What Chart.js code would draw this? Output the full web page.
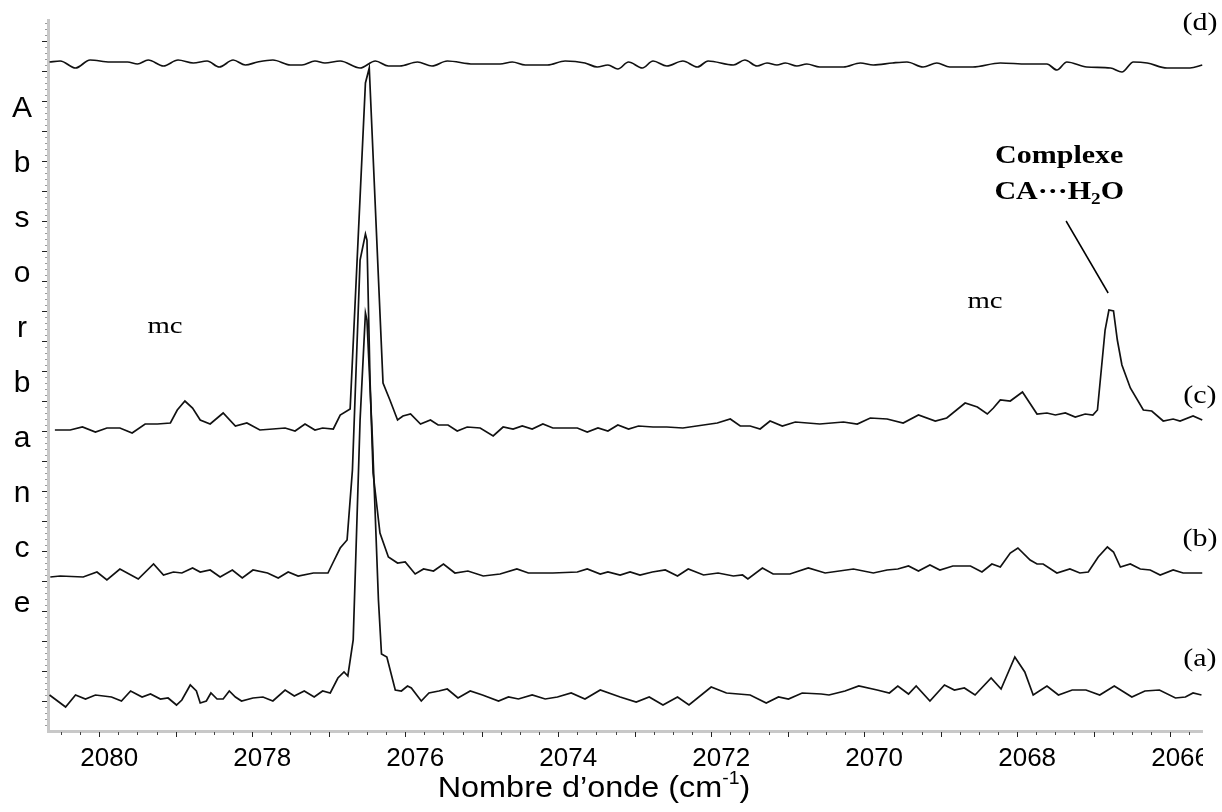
<!DOCTYPE html>
<html lang="fr">
<head>
<meta charset="utf-8">
<title>Spectres IR - région 2066-2080 cm-1</title>
<script src="https://cdn.jsdelivr.net/npm/chart.js@4.4.1/dist/chart.umd.min.js"></script>
<style>
  html, body { margin: 0; padding: 0; background: #fff; }
  #spectra { display: block; }
</style>
</head>
<body>
<canvas id="spectra" width="1222" height="812"></canvas>
<script>
// Absorbance in units of 1e-3, each spectrum already offset vertically.
// Spectre (a)
const waveA = [2080.65, 2080.58, 2080.44, 2080.31, 2080.18, 2080.05, 2079.84, 2079.71, 2079.59, 2079.44,
  2079.33, 2079.20, 2079.10, 2078.99, 2078.92, 2078.81, 2078.73, 2078.68, 2078.60, 2078.54,
  2078.46, 2078.38, 2078.30, 2078.22, 2078.14, 2077.99, 2077.86, 2077.73, 2077.57, 2077.45,
  2077.32, 2077.19, 2077.08, 2076.98, 2076.88, 2076.80, 2076.75, 2076.68, 2076.59, 2076.52,
  2076.50, 2076.43, 2076.35, 2076.31, 2076.24, 2076.13, 2076.05, 2075.97, 2075.92, 2075.79,
  2075.69, 2075.56, 2075.45, 2075.31, 2075.15, 2074.99, 2074.78, 2074.65, 2074.52, 2074.34,
  2074.17, 2074.01, 2073.83, 2073.65, 2073.45, 2073.19, 2072.98, 2072.81, 2072.63, 2072.44,
  2072.29, 2072.00, 2071.80, 2071.49, 2071.28, 2071.12, 2070.99, 2070.81, 2070.56, 2070.46,
  2070.25, 2070.07, 2069.83, 2069.67, 2069.56, 2069.42, 2069.32, 2069.14, 2068.95, 2068.82,
  2068.69, 2068.55, 2068.34, 2068.21, 2068.03, 2067.90, 2067.79, 2067.61, 2067.46, 2067.28,
  2067.10, 2066.92, 2066.73, 2066.50, 2066.33, 2066.14, 2065.93, 2065.80, 2065.70, 2065.59];
const absA = [36, 32, 24, 36, 32, 36, 34, 30, 40, 34,
  37, 32, 33, 26, 31, 46, 40, 28, 30, 38,
  32, 32, 40, 34, 30, 33, 34, 30, 41, 35,
  40, 34, 40, 38, 53, 59, 55, 91, 311, 418,
  411, 294, 131, 77, 74, 41, 40, 45, 43, 30,
  38, 40, 42, 33, 40, 36, 30, 34, 32, 36,
  32, 34, 38, 32, 41, 34, 29, 34, 26, 34,
  26, 44, 38, 36, 28, 34, 32, 38, 37, 36,
  40, 45, 41, 38, 45, 37, 45, 30, 46, 41,
  43, 36, 53, 42, 74, 59, 36, 45, 36, 41,
  41, 36, 45, 34, 40, 41, 33, 34, 38, 36];

// Spectre (b)
const waveB = [2080.64, 2080.51, 2080.21, 2080.03, 2079.90, 2079.73, 2079.49, 2079.29, 2079.16, 2079.03,
  2078.92, 2078.78, 2078.68, 2078.55, 2078.42, 2078.26, 2078.13, 2077.99, 2077.80, 2077.66,
  2077.53, 2077.40, 2077.20, 2077.01, 2076.94, 2076.85, 2076.76, 2076.69, 2076.59, 2076.52,
  2076.50, 2076.46, 2076.42, 2076.33, 2076.22, 2076.10, 2076.00, 2075.87, 2075.76, 2075.63,
  2075.50, 2075.35, 2075.18, 2074.98, 2074.76, 2074.54, 2074.39, 2074.07, 2073.75, 2073.62,
  2073.45, 2073.35, 2073.19, 2073.06, 2072.93, 2072.77, 2072.60, 2072.44, 2072.30, 2072.10,
  2071.91, 2071.71, 2071.59, 2071.52, 2071.33, 2071.19, 2070.97, 2070.73, 2070.51, 2070.14,
  2069.88, 2069.70, 2069.56, 2069.42, 2069.29, 2069.14, 2069.01, 2068.84, 2068.61, 2068.46,
  2068.33, 2068.22, 2068.09, 2067.99, 2067.83, 2067.74, 2067.66, 2067.48, 2067.31, 2067.18,
  2067.07, 2066.94, 2066.82, 2066.74, 2066.65, 2066.52, 2066.39, 2066.26, 2066.13, 2065.96,
  2065.83, 2065.58];
const absB = [154, 155, 154, 159, 151, 162, 152, 167, 156, 159,
  158, 163, 159, 161, 154, 161, 153, 161, 158, 153,
  159, 155, 158, 158, 169, 183, 191, 261, 471, 497,
  491, 351, 258, 198, 174, 168, 169, 157, 162, 160,
  167, 158, 160, 155, 157, 162, 158, 158, 159, 162,
  157, 159, 156, 159, 156, 159, 161, 155, 162, 156,
  158, 155, 156, 152, 163, 157, 157, 163, 158, 162,
  158, 161, 162, 165, 160, 166, 161, 165, 165, 159,
  167, 164, 178, 183, 171, 167, 167, 158, 162, 158,
  159, 174, 184, 179, 164, 167, 162, 161, 156, 161,
  158, 158];

// Spectre (c)
const waveC = [2080.58, 2080.38, 2080.22, 2080.05, 2079.90, 2079.73, 2079.57, 2079.40, 2079.24, 2079.07,
  2078.98, 2078.88, 2078.78, 2078.68, 2078.55, 2078.38, 2078.22, 2078.07, 2077.90, 2077.73,
  2077.57, 2077.44, 2077.31, 2077.18, 2077.08, 2076.94, 2076.85, 2076.72, 2076.52, 2076.47,
  2076.29, 2076.20, 2076.10, 2076.03, 2075.93, 2075.80, 2075.67, 2075.57, 2075.44, 2075.32,
  2075.19, 2075.02, 2074.85, 2074.72, 2074.59, 2074.47, 2074.34, 2074.20, 2074.07, 2073.75,
  2073.62, 2073.48, 2073.35, 2073.22, 2073.08, 2072.95, 2072.76, 2072.58, 2072.37, 2072.10,
  2071.92, 2071.75, 2071.62, 2071.49, 2071.36, 2071.23, 2071.07, 2070.90, 2070.58, 2070.27,
  2070.09, 2069.92, 2069.70, 2069.49, 2069.29, 2069.07, 2068.92, 2068.68, 2068.52, 2068.39,
  2068.31, 2068.22, 2068.09, 2067.93, 2067.74, 2067.61, 2067.50, 2067.37, 2067.24, 2067.11,
  2067.01, 2066.95, 2066.85, 2066.80, 2066.74, 2066.69, 2066.63, 2066.52, 2066.35, 2066.24,
  2066.09, 2065.96, 2065.87, 2065.70, 2065.58];
const absC = [301, 301, 304, 299, 303, 303, 298, 307, 307, 308,
  321, 330, 323, 311, 307, 318, 305, 308, 301, 302,
  303, 300, 307, 301, 303, 302, 316, 322, 648, 663,
  348, 331, 311, 315, 317, 307, 311, 306, 306, 300,
  304, 303, 295, 304, 302, 305, 302, 307, 303, 303,
  299, 303, 300, 306, 302, 305, 304, 304, 303, 306,
  308, 312, 305, 305, 302, 310, 305, 309, 307, 309,
  307, 313, 312, 308, 316, 310, 313, 328, 324, 317,
  323, 331, 330, 339, 317, 318, 316, 318, 314, 317,
  316, 321, 401, 421, 420, 391, 366, 343, 321, 320,
  310, 312, 310, 315, 311];

// Spectre (d)
const waveD = [2080.65, 2080.51, 2080.31, 2080.12, 2079.86, 2079.63, 2079.50, 2079.36, 2079.16, 2078.97,
  2078.77, 2078.59, 2078.43, 2078.25, 2078.09, 2077.93, 2077.73, 2077.50, 2077.35, 2077.18,
  2077.05, 2076.85, 2076.59, 2076.39, 2076.22, 2076.07, 2075.84, 2075.65, 2075.45, 2075.11,
  2074.76, 2074.60, 2074.43, 2074.14, 2073.91, 2073.65, 2073.49, 2073.35, 2073.22, 2073.08,
  2072.90, 2072.76, 2072.58, 2072.37, 2072.18, 2072.04, 2071.71, 2071.56, 2071.40, 2071.27,
  2071.14, 2071.03, 2070.88, 2070.75, 2070.58, 2070.27, 2070.05, 2069.88, 2069.63, 2069.44,
  2069.23, 2069.05, 2068.88, 2068.58, 2068.22, 2067.87, 2067.61, 2067.48, 2067.35, 2067.09,
  2066.78, 2066.63, 2066.48, 2066.30, 2066.04, 2065.74, 2065.58];
const absD = [669, 670, 663, 671, 669, 669, 667, 671, 665, 671,
  668, 670, 664, 671, 666, 669, 671, 666, 666, 670,
  668, 670, 663, 670, 665, 665, 669, 665, 670, 667,
  667, 669, 666, 666, 670, 668, 664, 666, 662, 669,
  663, 670, 665, 670, 664, 670, 666, 671, 665, 668,
  666, 668, 665, 667, 664, 664, 668, 666, 668, 669,
  664, 668, 664, 664, 668, 667, 667, 661, 669, 664,
  663, 659, 669, 668, 663, 663, 666];

// Axis: wavenumber labels every 2 cm-1, minor ticks every 0.25 cm-1
const xTickLabels = [2080, 2078, 2076, 2074, 2072, 2070, 2068, 2066];
const xRange = [2065.57, 2080.67];
const yRange = [0, 711];

// Text labels placed in data coordinates [wavenumber, absorbance]
const traceLabels = [
  { text: '(d)', at: [2065.61, 701] },
  { text: '(c)', at: [2065.61, 328] },
  { text: '(b)', at: [2065.61, 185] },
  { text: '(a)', at: [2065.61, 65] }
];
const mcLabels = [[2079.14, 398], [2068.42, 423]];
const complexLabel = { line1: [2067.45, 568], line2: [2067.45, 532] };
const complexPointer = [[2067.36, 510], [2066.81, 438]];

const PLOT_RIGHT = 1203;
const SERIF = '"Liberation Serif", "Times New Roman", serif';
const SANS = '"Liberation Sans", Arial, sans-serif';

function toPoints(waves, values) {
  return waves.map((w, i) => ({ x: w, y: values[i] }));
}

function serifText(ctx, text, x, y, size, bold) {
  // Times-style text, slightly widened like the rest of the figure
  ctx.save();
  ctx.translate(x, y);
  ctx.scale(1.2, 1);
  ctx.font = (bold ? 'bold ' : '') + size + 'px ' + SERIF;
  ctx.textAlign = 'center';
  ctx.textBaseline = 'alphabetic';
  ctx.fillStyle = '#000';
  ctx.fillText(text, 0, 0);
  ctx.restore();
}

const framePlugin = {
  id: 'frame',
  beforeDraw(chart) {
    const ctx = chart.ctx;
    ctx.save();
    ctx.fillStyle = '#fff';
    ctx.fillRect(0, 0, chart.width, chart.height);
    // everything drawn by the chart stops at the right end of the x axis
    ctx.beginPath();
    ctx.rect(0, 0, PLOT_RIGHT, chart.height);
    ctx.clip();
  },
  afterDraw(chart) {
    const ctx = chart.ctx;
    const xs = chart.scales.x;
    const ys = chart.scales.y;
    const area = chart.chartArea;

    // x tick marks
    ctx.lineWidth = 1;
    xs.ticks.forEach(t => {
      if (Math.abs(t.value * 4 - Math.round(t.value * 4)) > 1e-6) return;
      const px = Math.round(xs.getPixelForValue(t.value)) + 0.5;
      const major = Math.abs(t.value - Math.round(t.value)) < 1e-6;
      ctx.strokeStyle = major ? '#222' : '#444';
      ctx.beginPath();
      ctx.moveTo(px, area.bottom + 1);
      ctx.lineTo(px, area.bottom + (major ? 6 : 4));
      ctx.stroke();
    });

    // y tick marks (no labels on this axis)
    for (let v = yRange[0] + 6, i = 1; v < yRange[1]; v += 6, i++) {
      const py = Math.round(ys.getPixelForValue(v)) + 0.5;
      const major = i % 5 === 0;
      ctx.strokeStyle = major ? '#222' : '#999';
      ctx.beginPath();
      ctx.moveTo(area.left - 1, py);
      ctx.lineTo(area.left - (major ? 6 : 3), py);
      ctx.stroke();
    }

    // y title, one letter per line
    ctx.fillStyle = '#000';
    ctx.font = '30px ' + SANS;
    ctx.textAlign = 'center';
    ctx.textBaseline = 'alphabetic';
    'Absorbance'.split('').forEach((ch, i) => {
      ctx.fillText(ch, 22, area.top + 97 + i * 55);
    });

    // x title with superscript
    ctx.save();
    ctx.translate(594, 797);
    ctx.scale(1.08, 1);
    ctx.font = '30px ' + SANS;
    const main = 'Nombre d\u2019onde (cm';
    const wMain = ctx.measureText(main).width;
    const wEnd = ctx.measureText(')').width;
    ctx.font = '18px ' + SANS;
    const wSup = ctx.measureText('-1').width;
    const x0 = -(wMain + wSup + wEnd) / 2;
    ctx.textAlign = 'left';
    ctx.font = '30px ' + SANS;
    ctx.fillText(main, x0, 0);
    ctx.font = '18px ' + SANS;
    ctx.fillText('-1', x0 + wMain, -13);
    ctx.font = '30px ' + SANS;
    ctx.fillText(')', x0 + wMain + wSup, 0);
    ctx.restore();

    ctx.restore(); // end of clip

    // annotations
    traceLabels.forEach(l => {
      serifText(ctx, l.text, xs.getPixelForValue(l.at[0]), ys.getPixelForValue(l.at[1]), 25, false);
    });
    mcLabels.forEach(p => {
      serifText(ctx, 'mc', xs.getPixelForValue(p[0]), ys.getPixelForValue(p[1]), 24, false);
    });
    const cx = xs.getPixelForValue(complexLabel.line1[0]);
    serifText(ctx, 'Complexe', cx, ys.getPixelForValue(complexLabel.line1[1]), 25, true);

    // CA···H2O with subscript 2
    const by = ys.getPixelForValue(complexLabel.line2[1]);
    ctx.save();
    ctx.font = 'bold 25px ' + SERIF;
    const p1 = 'CA\u00B7\u00B7\u00B7H';
    const w1 = ctx.measureText(p1).width;
    const w3 = ctx.measureText('O').width;
    ctx.font = 'bold 16px ' + SERIF;
    const w2 = ctx.measureText('2').width;
    ctx.translate(cx, by);
    ctx.scale(1.2, 1);
    const sx = -(w1 + w2 + w3) / 2;
    ctx.fillStyle = '#000';
    ctx.textAlign = 'left';
    ctx.font = 'bold 25px ' + SERIF;
    ctx.fillText(p1, sx, 0);
    ctx.fillText('O', sx + w1 + w2, 0);
    ctx.font = 'bold 16px ' + SERIF;
    ctx.fillText('2', sx + w1, 5);
    ctx.restore();

    ctx.save();
    ctx.strokeStyle = '#000';
    ctx.lineWidth = 1.5;
    ctx.beginPath();
    ctx.moveTo(xs.getPixelForValue(complexPointer[0][0]), ys.getPixelForValue(complexPointer[0][1]));
    ctx.lineTo(xs.getPixelForValue(complexPointer[1][0]), ys.getPixelForValue(complexPointer[1][1]));
    ctx.stroke();
    ctx.restore();
  }
};

const traceStyle = { borderColor: '#111', borderWidth: 1.7, pointRadius: 0, fill: false };

new Chart(document.getElementById('spectra'), {
  type: 'line',
  data: {
    datasets: [
      { label: '(a)', data: toPoints(waveA, absA), tension: 0, ...traceStyle },
      { label: '(b)', data: toPoints(waveB, absB), tension: 0, ...traceStyle },
      { label: '(c)', data: toPoints(waveC, absC), tension: 0, ...traceStyle },
      { label: '(d)', data: toPoints(waveD, absD), cubicInterpolationMode: 'monotone', ...traceStyle }
    ]
  },
  options: {
    responsive: false,
    animation: false,
    events: [],
    layout: { padding: { top: 20, right: 1222 - PLOT_RIGHT, left: 0, bottom: 0 } },
    plugins: { legend: { display: false }, tooltip: { enabled: false } },
    scales: {
      x: {
        type: 'linear',
        reverse: true,
        min: xRange[0],
        max: xRange[1],
        afterFit: s => { s.height = 81; },
        afterBuildTicks: s => {
          const ticks = [];
          for (let v = Math.ceil(xRange[0] * 4) / 4; v <= xRange[1]; v += 0.25) ticks.push({ value: v });
          s.ticks = ticks;
        },
        ticks: {
          autoSkip: false,
          maxRotation: 0,
          minRotation: 0,
          padding: 12,
          labelOffset: 10,
          color: '#000',
          font: { family: SANS, size: 26 },
          callback: v => (xTickLabels.includes(v) ? String(v) : '')
        },
        grid: { display: false, drawTicks: false },
        border: { display: true, color: '#c8c8c8', width: 3 }
      },
      y: {
        min: yRange[0],
        max: yRange[1],
        afterFit: s => { s.width = 48; },
        ticks: { display: false },
        grid: { display: false, drawTicks: false },
        border: { display: true, color: '#c8c8c8', width: 3 }
      }
    }
  },
  plugins: [framePlugin]
});
</script>
</body>
</html>
